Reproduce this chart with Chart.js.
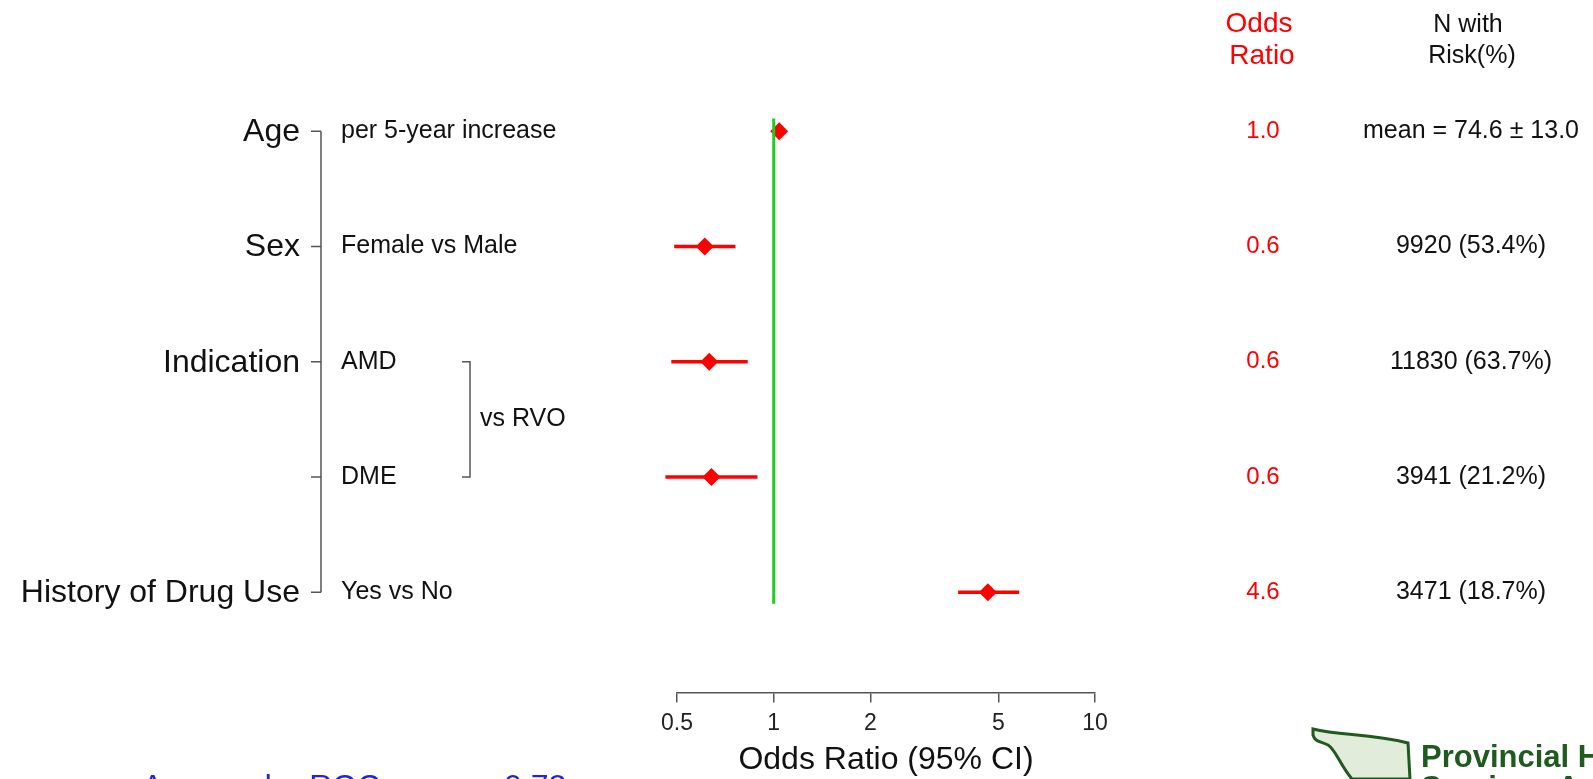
<!DOCTYPE html>
<html>
<head>
<meta charset="utf-8">
<script src="https://cdn.jsdelivr.net/npm/chart.js@4.4.0/dist/chart.umd.min.js"></script>
<style>
    html, body { margin: 0; padding: 0; background: #fff; overflow: hidden; }
</style>
</head>
<body>
<canvas id="forestChart" width="1593" height="779"></canvas>
<script>
const fontFamily = '"Liberation Sans", Arial, sans-serif';

// one row per estimate, top to bottom
const groupLabels = ['Age', 'Sex', 'Indication', '', 'History of Drug Use'];
const levelLabels = ['per 5-year increase', 'Female vs Male', 'AMD', 'DME', 'Yes vs No'];
const oddsRatio = [1.04, 0.61, 0.63, 0.64, 4.64];
const ciLow = [1.03, 0.49, 0.48, 0.46, 3.75];
const ciHigh = [1.05, 0.76, 0.83, 0.89, 5.81];
const nWithRisk = ['mean = 74.6 \u00b1 13.0', '9920 (53.4%)', '11830 (63.7%)', '3941 (21.2%)', '3471 (18.7%)'];
const xTicks = [0.5, 1, 2, 5, 10];
const refValue = 1;
const aucText = 'Area under ROC curve = 0.72';

const red = '#ff0000';

const datasets = [];

// reference line at OR = 1
datasets.push({
    data: [{x: refValue, y: -0.11}, {x: refValue, y: oddsRatio.length - 1 + 0.1}],
    showLine: true,
    borderColor: '#1fcc1f',
    borderWidth: 3,
    pointRadius: 0
});

// confidence intervals (some run past 0.5, so no clipping)
oddsRatio.forEach((v, i) => {
    datasets.push({
        data: [{x: ciLow[i], y: i}, {x: ciHigh[i], y: i}],
        showLine: true,
        clip: false,
        borderColor: red,
        borderWidth: 3.5,
        pointRadius: 0
    });
});

// point estimates
datasets.push({
    data: oddsRatio.map((v, i) => ({x: v, y: i})),
    clip: false,
    pointStyle: 'rectRot',
    pointRadius: 9,
    pointBackgroundColor: red,
    pointBorderColor: red,
    pointBorderWidth: 0
});

const forestText = {
    id: 'forestText',
    afterDraw(chart) {
        const ctx = chart.ctx;
        const yScale = chart.scales.y;
        const rowY = (i) => yScale.getPixelForValue(i);
        ctx.save();
        ctx.textBaseline = 'middle';

        // group labels + bracket
        ctx.fillStyle = '#111';
        ctx.font = `32px ${fontFamily}`;
        ctx.textAlign = 'right';
        groupLabels.forEach((g, i) => {
            if (g) ctx.fillText(g, 300, rowY(i) + 1);
        });
        ctx.strokeStyle = '#555';
        ctx.lineWidth = 1.5;
        ctx.beginPath();
        ctx.moveTo(321, rowY(0));
        ctx.lineTo(321, rowY(groupLabels.length - 1));
        groupLabels.forEach((g, i) => {
            ctx.moveTo(311, rowY(i));
            ctx.lineTo(321, rowY(i));
        });
        ctx.stroke();

        // level labels
        ctx.font = `25px ${fontFamily}`;
        ctx.textAlign = 'left';
        levelLabels.forEach((l, i) => ctx.fillText(l, 341, rowY(i)));

        // "vs RVO" bracket for AMD / DME
        ctx.beginPath();
        ctx.moveTo(462, rowY(2));
        ctx.lineTo(470, rowY(2));
        ctx.lineTo(470, rowY(3));
        ctx.lineTo(462, rowY(3));
        ctx.stroke();
        ctx.fillText('vs RVO', 480, (rowY(2) + rowY(3)) / 2);

        // right columns
        ctx.textAlign = 'center';
        ctx.fillStyle = red;
        ctx.font = `28px ${fontFamily}`;
        ctx.fillText('Odds', 1259, 24);
        ctx.fillText('Ratio', 1262, 56);
        ctx.font = `24px ${fontFamily}`;
        oddsRatio.forEach((v, i) => ctx.fillText(v.toFixed(1), 1263, rowY(i)));

        ctx.fillStyle = '#111';
        ctx.font = `25px ${fontFamily}`;
        ctx.fillText('N with', 1468, 25);
        ctx.fillText('Risk(%)', 1472, 56);
        nWithRisk.forEach((t, i) => ctx.fillText(t, 1471, rowY(i)));

        // AUC note, cut by the bottom edge
        ctx.textAlign = 'left';
        ctx.textBaseline = 'alphabetic';
        ctx.fillStyle = '#2323e6';
        ctx.font = `32px ${fontFamily}`;
        ctx.fillText(aucText, 142, 797);

        // logo corner
        ctx.beginPath();
        ctx.moveTo(1313, 729);
        ctx.bezierCurveTo(1340, 736, 1370, 733, 1408, 743);
        ctx.lineTo(1410, 779);
        ctx.lineTo(1352, 779);
        ctx.bezierCurveTo(1340, 765, 1336, 750, 1328, 745);
        ctx.bezierCurveTo(1320, 741, 1315, 742, 1313, 735);
        ctx.closePath();
        ctx.fillStyle = '#e1ecdb';
        ctx.fill();
        ctx.strokeStyle = '#1f5a1f';
        ctx.lineWidth = 3;
        ctx.stroke();
        ctx.fillStyle = '#1f5a1f';
        ctx.font = `bold 31px ${fontFamily}`;
        ctx.fillText('Provincial Health', 1421, 767);
        ctx.fillText('Services Authority', 1421, 798);

        ctx.restore();
    }
};

let chart = new Chart(document.getElementById('forestChart'), {
    type: 'scatter',
    data: {
        datasets: datasets
    },
    options: {
        responsive: false,
        animation: false,
        devicePixelRatio: 1,
        layout: {
            padding: {left: 677, right: 498, top: 62, bottom: 3}
        },
        scales: {
            x: {
                type: 'logarithmic',
                min: 0.5,
                max: 10,
                afterBuildTicks: (scale) => {
                    scale.ticks = xTicks.map((v) => ({value: v}));
                },
                border: {
                    display: true,
                    color: '#555',
                    width: 1.5
                },
                grid: {
                    drawOnChartArea: false,
                    drawTicks: true,
                    tickLength: 10,
                    color: '#555',
                    lineWidth: 1.5
                },
                ticks: {
                    color: '#222',
                    autoSkip: false,
                    maxRotation: 0,
                    padding: 7,
                    font: {family: fontFamily, size: 23},
                    callback: function (value) {
                        return String(value);
                    }
                },
                title: {
                    display: true,
                    text: 'Odds Ratio (95% CI)',
                    color: '#111',
                    padding: {top: 0, bottom: 0},
                    font: {family: fontFamily, size: 32, lineHeight: 1}
                }
            },
            y: {
                type: 'linear',
                reverse: true,
                min: -0.6,
                max: 4.868,
                display: false
            }
        },
        plugins: {
            legend: {
                display: false
            },
            tooltip: {
                enabled: false
            }
        }
    },
    plugins: [forestText]
});
</script>
</body>
</html>
